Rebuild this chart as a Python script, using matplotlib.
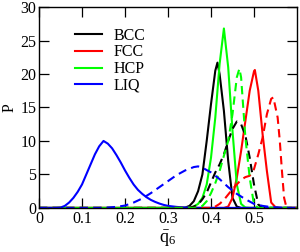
import matplotlib
matplotlib.use("Agg")
import matplotlib.pyplot as plt

# ---- data (x = q6bar, y = P) ----
bcc_x = [0.0, 0.33, 0.34, 0.35, 0.36, 0.37, 0.38, 0.39, 0.40, 0.41, 0.415, 0.42, 0.43, 0.44, 0.45, 0.46, 0.47, 0.6]
bcc_y = [0.0, 0.0, 0.05, 0.3, 1.0, 2.5, 5.0, 10.0, 15.5, 20.5, 21.7, 20.0, 14.5, 7.0, 1.5, 0.2, 0.0, 0.0]

bcc2_x = [0.0, 0.35, 0.36, 0.37, 0.38, 0.39, 0.40, 0.41, 0.42, 0.43, 0.44, 0.45, 0.46, 0.47, 0.48, 0.49, 0.50, 0.51, 0.52, 0.6]
bcc2_y = [0.0, 0.0, 0.2, 0.5, 1.3, 2.3, 3.8, 5.3, 6.5, 8.0, 10.0, 11.8, 12.9, 12.5, 10.8, 7.5, 3.5, 0.5, 0.0, 0.0]

fcc_x = [0.0, 0.43, 0.44, 0.45, 0.46, 0.47, 0.48, 0.49, 0.50, 0.502, 0.51, 0.52, 0.53, 0.54, 0.55, 0.56, 0.6]
fcc_y = [0.0, 0.0, 0.2, 1.5, 4.5, 8.5, 13.0, 17.5, 20.4, 20.6, 17.5, 11.0, 5.5, 0.8, 0.1, 0.0, 0.0]

fcc2_x = [0.0, 0.40, 0.41, 0.42, 0.43, 0.44, 0.45, 0.46, 0.47, 0.48, 0.49, 0.50, 0.51, 0.52, 0.53, 0.54, 0.545, 0.55, 0.555, 0.56, 0.565, 0.57, 0.575, 0.58, 0.6]
fcc2_y = [0.0, 0.0, 0.2, 0.6, 1.2, 2.0, 2.8, 3.5, 4.2, 4.6, 4.8, 5.8, 8.0, 10.5, 14.0, 16.3, 16.5, 15.0, 13.5, 10.0, 5.5, 1.5, 0.2, 0.0, 0.0]

hcp_x = [0.0, 0.34, 0.35, 0.36, 0.37, 0.38, 0.39, 0.40, 0.41, 0.42, 0.43, 0.44, 0.45, 0.46, 0.47, 0.48, 0.49, 0.6]
hcp_y = [0.0, 0.0, 0.05, 0.2, 0.6, 1.5, 3.5, 7.5, 13.5, 21.5, 26.8, 21.0, 11.5, 3.5, 0.6, 0.05, 0.0, 0.0]

hcp2_x = [0.0, 0.36, 0.37, 0.38, 0.39, 0.40, 0.41, 0.42, 0.43, 0.44, 0.45, 0.46, 0.466, 0.47, 0.48, 0.49, 0.50, 0.51, 0.6]
hcp2_y = [0.0, 0.0, 0.1, 0.3, 1.0, 2.2, 3.7, 5.5, 7.8, 10.0, 14.0, 19.5, 20.8, 19.5, 10.5, 4.5, 0.5, 0.0, 0.0]

liq_x = [0.0, 0.04, 0.05, 0.06, 0.07, 0.08, 0.09, 0.10, 0.11, 0.12, 0.13, 0.14, 0.15, 0.16, 0.17, 0.18, 0.19, 0.20,
         0.21, 0.22, 0.23, 0.24, 0.25, 0.26, 0.27, 0.28, 0.29, 0.30, 0.32, 0.34, 0.36, 0.40, 0.6]
liq_y = [0.0, 0.0, 0.05, 0.3, 0.8, 1.5, 2.4, 3.5, 5.0, 6.5, 8.0, 9.2, 10.0, 9.6, 8.9, 7.9, 6.8, 5.6,
         4.5, 3.5, 2.7, 2.1, 1.6, 1.2, 0.9, 0.65, 0.45, 0.3, 0.15, 0.05, 0.02, 0.0, 0.0]

liq2_x = [0.0, 0.14, 0.16, 0.18, 0.20, 0.22, 0.24, 0.26, 0.28, 0.30, 0.32, 0.34, 0.36, 0.37, 0.38, 0.40, 0.42,
          0.44, 0.46, 0.48, 0.50, 0.52, 0.54, 0.56, 0.58, 0.6]
liq2_y = [0.0, 0.0, 0.05, 0.15, 0.35, 0.8, 1.4, 2.2, 3.1, 4.0, 4.9, 5.6, 6.1, 6.2, 6.0, 5.3, 4.3,
          3.1, 2.1, 1.3, 0.6, 0.3, 0.12, 0.05, 0.0, 0.0]

labels = ["BCC", "FCC", "HCP", "LIQ"]
colors = ["#000000", "#ff0000", "#00ff00", "#0000ff"]
x_ticks = [0, 0.1, 0.2, 0.3, 0.4, 0.5]
x_ticklabels = ["0", "0.1", "0.2", "0.3", "0.4", "0.5"]
y_ticks = [0, 5, 10, 15, 20, 25, 30]

plt.rcParams["font.family"] = ["Liberation Serif", "DejaVu Serif"]
plt.rcParams["mathtext.fontset"] = "custom"
plt.rcParams["mathtext.rm"] = "Liberation Serif"
plt.rcParams["mathtext.it"] = "Liberation Serif:italic"

fig = plt.figure(figsize=(3.0, 2.52), dpi=100)
ax = fig.add_axes([0.13, 0.175, 0.86, 0.797])

solid = [(bcc_x, bcc_y), (fcc_x, fcc_y), (hcp_x, hcp_y), (liq_x, liq_y)]
dashed = [(bcc2_x, bcc2_y), (fcc2_x, fcc2_y), (hcp2_x, hcp2_y), (liq2_x, liq2_y)]

lw = 1.5
for (x, y), c, lab in zip(solid, colors, labels):
    ax.plot(x, y, color=c, lw=lw, label=lab)
for (x, y), c in zip(dashed, colors):
    ax.plot(x, y, color=c, lw=lw, linestyle=(0, (4, 2.5)))

ax.set_xlim(0, 0.6)
ax.set_ylim(0, 30)
ax.set_xticks(x_ticks)
ax.set_xticklabels(x_ticklabels)
ax.set_yticks(y_ticks)
ax.tick_params(direction="in", length=7.5, width=0.9, top=True, right=True,
               labelsize=11.5, pad=2, colors="black")
for s in ax.spines.values():
    s.set_linewidth(1.0)

ax.set_ylabel("P", fontsize=11.5, labelpad=2)
ax.set_xlabel(r"$\bar{\mathrm{q}}_6$", fontsize=13, labelpad=2)

leg = ax.legend(loc="upper left", bbox_to_anchor=(0.115, 0.93), frameon=False,
                fontsize=11.5, handlelength=1.7, handletextpad=0.7,
                labelspacing=0.05, borderaxespad=0)

fig.savefig("out.png", dpi=100)
